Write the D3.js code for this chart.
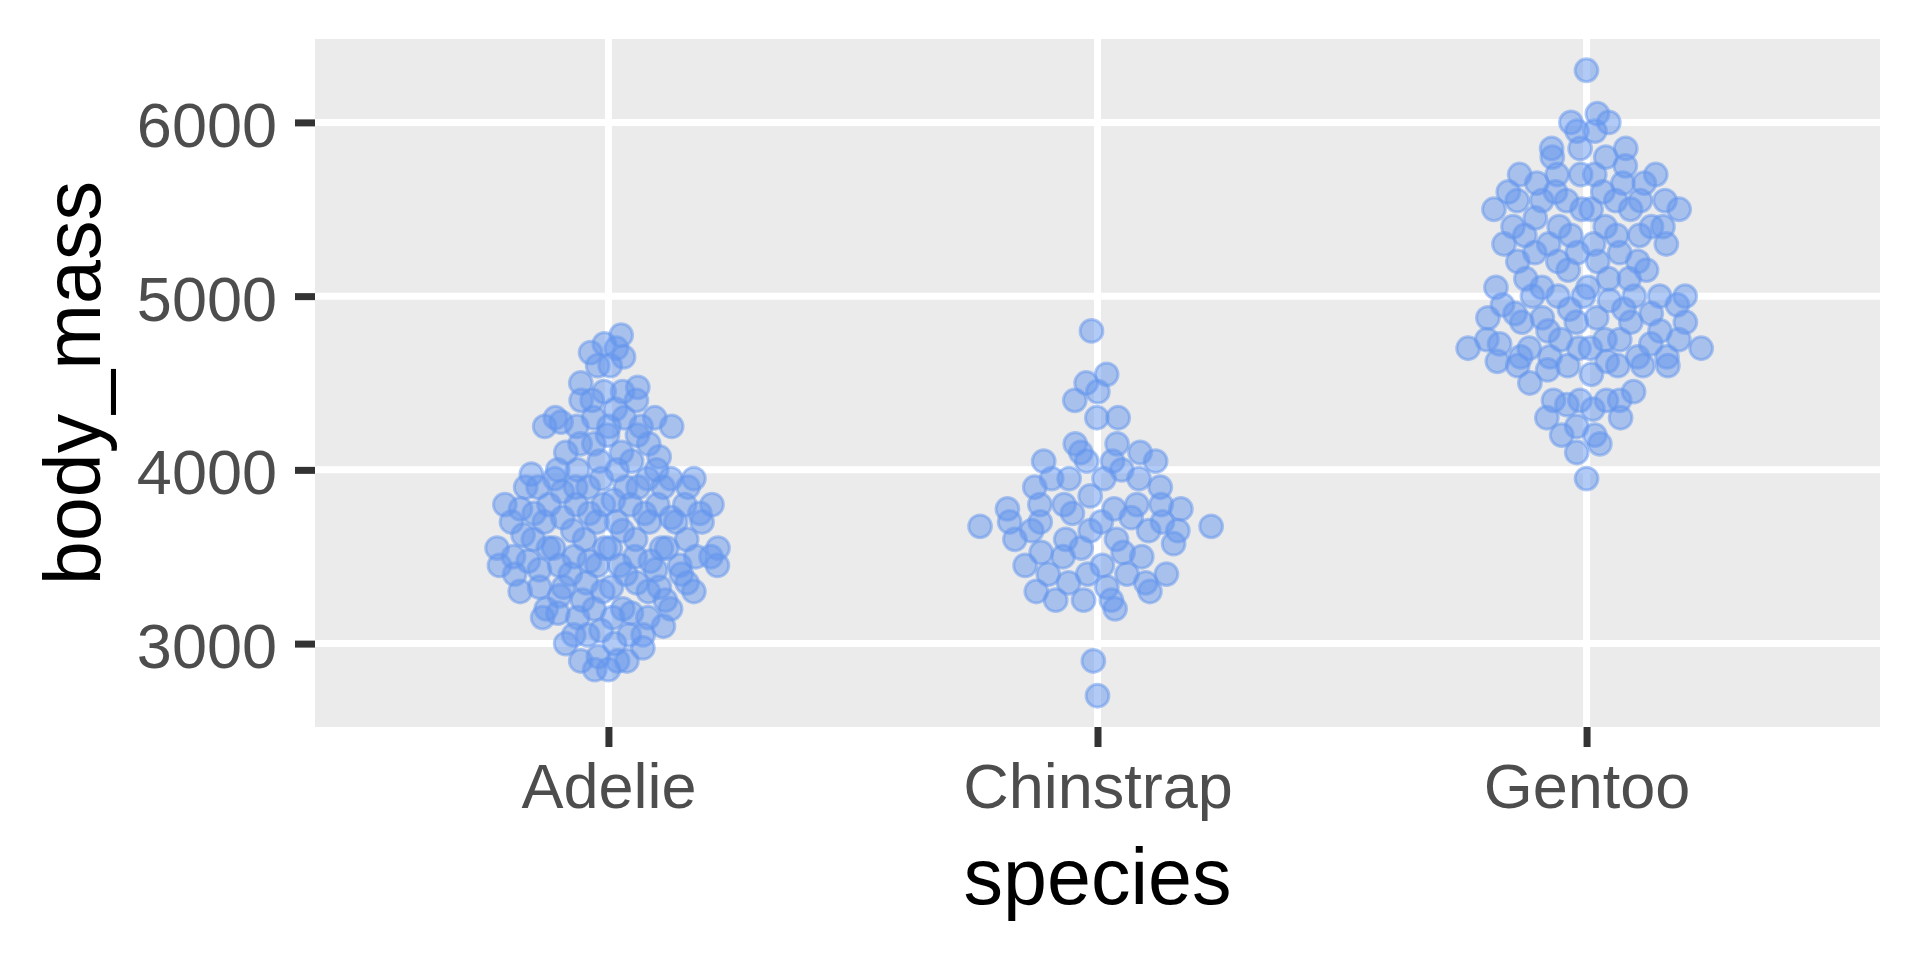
<!DOCTYPE html>
<html>
<head>
<meta charset="utf-8">
<script src="https://cdn.jsdelivr.net/npm/d3@7"></script>
<style>
  body { margin: 0; background: #fff; }
  text { font-family: "Liberation Sans", Arial, sans-serif; }
</style>
</head>
<body>
<div id="plot"></div>
<script>
var species = ['Adelie', 'Chinstrap', 'Gentoo'];

var adelie = [3750, 3800, 3250, 3450, 3650, 3625, 4675, 3475, 4250, 3300, 3700, 3200, 3800, 4400, 3700, 3450, 4500, 3325, 4200,
    3400, 3600, 3800, 3950, 3800, 3800, 3550, 3200, 3150, 3950, 3250, 3900, 3300, 3900, 3325, 4150, 3950, 3550, 3300, 4650,
    3150, 3900, 3100, 4400, 3000, 4600, 3425, 2975, 3450, 4150, 3500, 4300, 3450, 4050, 2900, 3700, 3550, 3800, 2850, 3750,
    3150, 4400, 3600, 4050, 2850, 3950, 3350, 4100, 3050, 4450, 3600, 3900, 3550, 4150, 3700, 4250, 3700, 3900, 3550, 4000,
    3200, 4700, 3800, 4200, 3350, 3550, 3800, 3500, 3950, 3600, 3550, 4300, 3400, 4450, 3300, 4300, 3700, 4350, 2900, 4100,
    3725, 4725, 3075, 4250, 2925, 3550, 3750, 3900, 3175, 4775, 3825, 4600, 3200, 4275, 3900, 4075, 2900, 3775, 3350, 3325,
    3150, 3500, 3450, 3875, 3050, 4000, 3275, 4300, 3050, 4000, 3325, 3500, 3500, 4475, 3425, 3900, 3175, 3975, 3400, 4250,
    3400, 3475, 3050, 3725, 3000, 3650, 4250, 3475, 3450, 3750, 3700, 4000];

var chinstrap = [3500, 3900, 3650, 3525, 3725, 3950, 3250, 3750, 4150, 3700, 3800, 3775, 3700, 4050, 3575, 4050, 3300, 3700,
    3450, 4400, 3600, 3400, 2900, 3800, 3300, 4150, 3400, 3800, 3700, 4550, 3200, 4300, 3350, 4100, 3600, 3900, 3850, 4800,
    2700, 4500, 3950, 3650, 3550, 3500, 3675, 4450, 3400, 4300, 3250, 3675, 3325, 3950, 3600, 4050, 3350, 3450, 3250, 4050,
    3800, 3525, 3950, 3650, 3650, 4000, 3400, 3775, 4100, 3775];

var gentoo = [4500, 5700, 4450, 5700, 5400, 4550, 4800, 5200, 4400, 5150, 4650, 5550, 4650, 5850, 4200, 5850, 4150, 6300,
    4800, 5350, 5700, 5000, 4400, 5050, 5000, 5100, 4100, 5650, 4600, 5550, 5250, 4700, 5050, 6050, 5150, 5400, 4950, 5250,
    4350, 5350, 3950, 5700, 4300, 4750, 5550, 4900, 4200, 5400, 5100, 5300, 4850, 5300, 4400, 5000, 4600, 5050, 4250, 5600,
    4600, 5350, 4900, 5000, 5300, 4300, 5550, 4400, 5650, 4700, 5700, 4650, 5800, 4700, 5550, 4750, 5000, 5100, 5200, 4700,
    5800, 4600, 6000, 4750, 5950, 4625, 5450, 4725, 5350, 4750, 5600, 4600, 5300, 4875, 5550, 4950, 5400, 4750, 5650, 4850,
    5200, 4925, 4875, 4625, 5250, 4850, 5600, 4975, 5500, 4725, 5500, 4700, 5500, 4575, 5500, 5000, 5950, 4650, 5500, 4375,
    5850, 4875, 6000, 4925, 4850, 5750, 5200, 5400];

var yTicks = [3000, 4000, 5000, 6000];

var bodyMass = {Adelie: adelie, Chinstrap: chinstrap, Gentoo: gentoo};

var width = 1920,
    height = 960,
    panel = {left: 315, right: 1880, top: 39, bottom: 727},
    pointR = 11.4,
    jitterWidth = 0.25,
    bwAdjust = 0.5;

var xScale = d3.scalePoint()
    .domain(species)
    .range([panel.left, panel.right])
    .padding(0.6);

var yScale = d3.scaleLinear()
    .domain([2520, 6480])
    .range([panel.bottom, panel.top]);

// van der Corput sequence, base 2, starting at 1
function vdc(i) {
    var v = 0, denom = 1;
    while (i > 0) {
        denom *= 2;
        v += (i % 2) / denom;
        i = Math.floor(i / 2);
    }
    return v;
}

// quasirandom offsets (fraction of a category step), scaled by kernel density
function quasirandom(values) {
    var sorted = values.slice().sort(d3.ascending);
    var n = values.length;
    var iqr = d3.quantile(sorted, 0.75) - d3.quantile(sorted, 0.25);
    var bw = 0.9 * Math.min(d3.deviation(values), iqr / 1.34) * Math.pow(n, -0.2) * bwAdjust;
    var dens = function (y) {
        return d3.sum(values, function (v) {
            var z = (y - v) / bw;
            return Math.exp(-0.5 * z * z);
        });
    };
    var lo = sorted[0] - 3 * bw, hi = sorted[n - 1] + 3 * bw;
    var maxD = d3.max(d3.range(1024), function (k) { return dens(lo + (hi - lo) * k / 1023); });
    var order = d3.range(n).sort(function (a, b) { return values[a] - values[b] || a - b; });
    var offsets = new Array(n);
    order.forEach(function (idx, r) {
        offsets[idx] = (vdc(r + 1) - 0.5) * 2 * jitterWidth * dens(values[idx]) / maxD;
    });
    return offsets;
}

var points = [];
species.forEach(function (s) {
    var vals = bodyMass[s];
    var off = quasirandom(vals);
    vals.forEach(function (v, i) {
        points.push({species: s, value: v, offset: off[i]});
    });
});

var step = xScale.step();

var svg = d3.select('#plot')
    .append('svg')
    .attr('width', width)
    .attr('height', height);

svg.append('rect')
    .attr('width', width)
    .attr('height', height)
    .attr('fill', '#fff');

svg.append('rect')
    .attr('x', panel.left)
    .attr('y', panel.top)
    .attr('width', panel.right - panel.left)
    .attr('height', panel.bottom - panel.top)
    .attr('fill', '#EBEBEB');

var grid = svg.append('g')
    .attr('stroke', '#fff')
    .attr('stroke-width', 7);

grid.selectAll('.hgrid')
    .data(yTicks)
    .enter()
    .append('line')
    .attr('x1', panel.left)
    .attr('x2', panel.right)
    .attr('y1', function (d) { return yScale(d); })
    .attr('y2', function (d) { return yScale(d); });

grid.selectAll('.vgrid')
    .data(species)
    .enter()
    .append('line')
    .attr('y1', panel.top)
    .attr('y2', panel.bottom)
    .attr('x1', function (d) { return xScale(d); })
    .attr('x2', function (d) { return xScale(d); });

svg.append('g')
    .classed('dots', true)
    .selectAll('circle')
    .data(points)
    .enter()
    .append('circle')
    .attr('cx', function (d) { return xScale(d.species) + d.offset * step; })
    .attr('cy', function (d) { return yScale(d.value); })
    .attr('r', pointR)
    .attr('fill', '#6495ED')
    .attr('fill-opacity', 0.5)
    .attr('stroke', '#6495ED')
    .attr('stroke-opacity', 0.5)
    .attr('stroke-width', 3);

var yAxisGenerator = d3.axisLeft(yScale)
    .tickValues(yTicks)
    .tickFormat(d3.format('d'))
    .tickSize(20)
    .tickPadding(18);

var xAxisGenerator = d3.axisBottom(xScale)
    .tickSize(20)
    .tickPadding(16);

var yAxis = svg.append('g')
    .attr('transform', 'translate(' + panel.left + ',0)')
    .call(yAxisGenerator);

var xAxis = svg.append('g')
    .attr('transform', 'translate(0,' + panel.bottom + ')')
    .call(xAxisGenerator);

[xAxis, yAxis].forEach(function (ax) {
    ax.select('.domain').remove();
    ax.selectAll('.tick line')
        .attr('stroke', '#333333')
        .attr('stroke-width', 7);
    ax.selectAll('.tick text')
        .attr('fill', '#4D4D4D')
        .style('font-size', '63px')
        .style('font-family', '"Liberation Sans", Arial, sans-serif');
});

yAxis.selectAll('.tick text')
    .attr('dy', '0.38em');

xAxis.selectAll('.tick text')
    .attr('dy', '0.71em');

svg.append('text')
    .attr('x', (panel.left + panel.right) / 2)
    .attr('y', 904)
    .attr('text-anchor', 'middle')
    .style('font-size', '79px')
    .attr('fill', '#000')
    .text('species');

svg.append('text')
    .attr('transform', 'translate(100,' + (panel.top + panel.bottom) / 2 + ') rotate(-90)')
    .attr('text-anchor', 'middle')
    .style('font-size', '79px')
    .attr('fill', '#000')
    .text('body_mass');
</script>
</body>
</html>
